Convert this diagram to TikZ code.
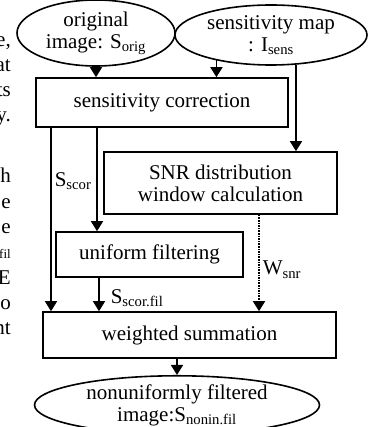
\documentclass[tikz,border=0pt]{standalone}
\usepackage{fontspec}
\setmainfont{Liberation Serif}
\usetikzlibrary{shapes.geometric,arrows.meta}
\tikzset{
  stage/.style={draw, line width=1.6pt, inner sep=0pt, align=center, font=\fontsize{21}{22}\selectfont},
  oval/.style={ellipse, draw, line width=1.6pt, inner sep=0pt, align=center, font=\fontsize{21}{22}\selectfont},
  flow/.style={-{Triangle[length=10pt,width=12pt]}, line width=1.6pt},
  lbl/.style={font=\fontsize{21}{22}\selectfont, inner sep=3pt},
  margintext/.style={anchor=base east, inner sep=0pt, font=\fontsize{21}{22}\selectfont}
}
\begin{document}
\begin{tikzpicture}[x=1pt,y=-1pt]
\useasboundingbox (0,0) rectangle (378,427);

% text of the page beside the figure
\foreach \ty/\txt [count=\i] in {47/{e,},72/at,97/ts,122/y.,183/h,208/e,233/e,284/E,309/o,334/nt}
  \node[margintext] (m\i) at (11,\ty) {\txt};
\node[margintext, font=\fontsize{13}{13}\selectfont] (mfil) at (11,258) {fil};

% inputs
\node[oval, minimum width=158pt, minimum height=66pt] (orig) at (96,33) {original\\image: S\textsubscript{orig}};
\node[oval, minimum width=192pt, minimum height=60pt] (sens) at (271,35) {sensitivity map\\: I\textsubscript{sens}};

% processing steps
\node[stage, minimum width=252pt, minimum height=49pt] (corr) at (162,102.5) {sensitivity correction};
\node[stage, minimum width=233pt, minimum height=62pt] (snr) at (220.5,183) {SNR distribution\\window calculation};
\node[stage, minimum width=187pt, minimum height=45pt] (unif) at (149.5,254.5) {uniform filtering};
\node[stage, minimum width=293pt, minimum height=46pt] (wsum) at (189.5,335) {weighted summation};
\node[oval, minimum width=285pt, minimum height=55pt] (result) at (177,405) {nonuniformly filtered\\image:S\textsubscript{nonin.fil}};

% drop points
\coordinate (cu) at ([xshift=-65pt]corr.south);
\coordinate (cw) at ([xshift=-111pt]corr.south);
\coordinate (uw) at ([xshift=-50.5pt]unif.south);
\coordinate (sw) at ([xshift=38.5pt]snr.south);
\coordinate (wr) at (result.north |- wsum.south);

\draw[flow] (orig.south) -- (orig.south |- corr.north);
\draw[flow] (sens.205) -- (sens.205 |- corr.north);
\draw[flow] (sens.310) -- (sens.310 |- snr.north);
\draw[flow] (cu) -- (cu |- unif.north);
\draw[flow] (cw) -- (cw |- wsum.north) node[lbl, right, pos=0.29] {S\textsubscript{scor}};
\draw[flow] (uw) -- (uw |- wsum.north) node[lbl, right, pos=0.6, xshift=8pt] {S\textsubscript{scor.fil}};
\draw[flow, densely dotted] (sw) -- (sw |- wsum.north) node[lbl, right, pos=0.57] {W\textsubscript{snr}};
\draw[flow] (wr) -- (result.north);
\end{tikzpicture}
\end{document}
